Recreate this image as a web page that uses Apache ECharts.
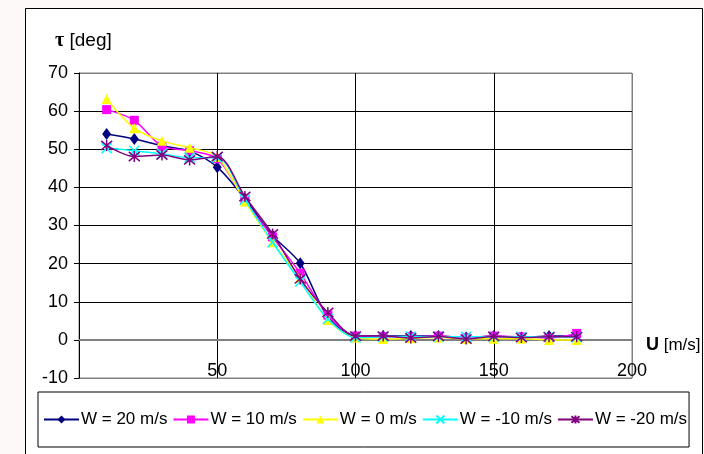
<!DOCTYPE html>
<html><head><meta charset="utf-8">
<script src="https://cdn.jsdelivr.net/npm/echarts@6/dist/echarts.min.js"></script>
<style>html,body{margin:0;padding:0;background:#fdf9f9;}#c{width:704px;height:454px;}</style>
</head><body><div id="c"></div>
<script>
const uValues = [10,20,30,40,50,60,70,80,90,100,110,120,130,140,150,160,170,180];
const seriesNames = ['W = 20 m/s','W = 10 m/s','W = 0 m/s','W = -10 m/s','W = -20 m/s'];
const w20  = [54, 52.7, 50.9, 49.5, 45.3, 37, 27.4, 20.1, 6, 1, 1, 1, 1, 0.6, 1, 0.6, 1, 1];
const w10  = [60.4, 57.6, 50.8, 49.6, 47.5, 36.6, 27, 17.5, 6.5, 1, 0.8, 0.8, 1, 0.5, 1, 0.8, 0.5, 1.7];
const w0   = [63.2, 55.5, 52.2, 50.4, 48, 36.3, 25.6, 16.3, 5.2, 0.6, 0.2, 0.4, 0.6, 0.3, 0.3, 0.3, 0, 0];
const wm10 = [50.3, 49.6, 48.8, 47.8, 47.8, 36.8, 25.6, 15.3, 5.5, 0.6, 0.8, 0.9, 0.8, 0.8, 0.8, 0.8, 0.8, 0.7];
const wm20 = [51, 48.1, 48.5, 47.2, 48.1, 37.6, 27.8, 16, 7.2, 1, 1, 0.5, 0.9, 0.2, 0.9, 0.6, 0.8, 0.8];
const xTicks = {min: 0, max: 200, interval: 50};
const yTicks = {min: -10, max: 70, interval: 10};

const valuesList = [w20, w10, w0, wm10, wm20];
const colors = ['#000080', '#ff00ff', '#ffff00', '#00ffff', '#800080'];
const symbols = ['diamond', 'rect', 'triangle',
  'path://M0,0L10,10M10,0L0,10',
  'path://M0,0L10,10M10,0L0,10M5,-1L5,11'];
const sizes = [[9,12], 9, 10, 10, 11];

const chart = echarts.init(document.getElementById('c'), null, {renderer: 'canvas'});
const FONT = 'Liberation Sans, Arial, sans-serif';

const series = valuesList.map((vals, i) => {
  const stroked = i >= 3;
  return {
    name: seriesNames[i],
    type: 'line',
    data: vals.map((v, k) => [uValues[k], v]),
    smooth: 0.3,
    symbol: symbols[i],
    symbolSize: sizes[i],
    showAllSymbol: true,
    lineStyle: {color: colors[i], width: 1.5},
    itemStyle: stroked ? {color: 'rgba(0,0,0,0)', borderColor: colors[i], borderWidth: 1.5}
                       : {color: colors[i], borderWidth: 0},
    emphasis: {disabled: true},
    z: 3 + i,
    markLine: i === 0 ? {
      silent: true, symbol: 'none', label: {show: false},
      lineStyle: {color: '#808080', width: 2, type: 'solid'},
      data: [{yAxis: 0}]
    } : undefined
  };
});

const yColors = [];
for (let v = yTicks.min; v <= yTicks.max; v += yTicks.interval) yColors.push((v === yTicks.min || v === yTicks.max) ? '#808080' : '#000');
const xColors = [];
for (let v = xTicks.min; v <= xTicks.max; v += xTicks.interval) xColors.push(v === xTicks.max ? '#808080' : '#000');

chart.setOption({
  animation: false,
  backgroundColor: '#fdf9f9',
  textStyle: {fontFamily: FONT},
  graphic: [
    {type: 'rect', shape: {x: 25.5, y: 8.5, width: 677, height: 460}, style: {fill: '#ffffff', stroke: '#000', lineWidth: 1}, z: -10},
    {type: 'text', left: 55, top: 31, style: {text: '{b|τ} [deg]', font: '19px Liberation Sans', fill: '#000',
      rich: {b: {font: 'bold 20px Liberation Serif', fill: '#000'}}}, z: 10},
    {type: 'text', left: 646, top: 336, style: {text: '{b|U} [m/s]', font: '17px Liberation Sans', fill: '#000',
      rich: {b: {font: 'bold 18px Liberation Sans', fill: '#000'}}}, z: 10}
  ],
  grid: {left: 79, top: 73, width: 553, height: 305, show: true, borderColor: '#808080', borderWidth: 1, backgroundColor: '#ffffff'},
  xAxis: {
    type: 'value', min: xTicks.min, max: xTicks.max, interval: xTicks.interval,
    axisLine: {show: false}, axisTick: {show: false},
    axisLabel: {showMinLabel: false, margin: -16, fontSize: 18, color: '#000', fontFamily: FONT},
    splitLine: {show: true, lineStyle: {color: xColors, width: 1}}
  },
  yAxis: {
    type: 'value', min: yTicks.min, max: yTicks.max, interval: yTicks.interval,
    axisLine: {show: true, onZero: false, lineStyle: {color: '#000', width: 1}},
    axisTick: {show: true, length: 5, lineStyle: {color: '#000'}},
    axisLabel: {margin: 11, fontSize: 18, color: '#000', fontFamily: FONT},
    splitLine: {show: true, lineStyle: {color: yColors, width: 1}}
  },
  legend: {
    left: 38, top: 392, orient: 'horizontal',
    padding: [19, 2, 19, 5], itemGap: 5, itemWidth: 35, itemHeight: 10,
    borderColor: '#000', borderWidth: 1, backgroundColor: '#fff',
    textStyle: {fontSize: 17, color: '#000', fontFamily: FONT, padding: [0,0,0,-3]},
    data: seriesNames
  },
  series: series
});
</script></body></html>
